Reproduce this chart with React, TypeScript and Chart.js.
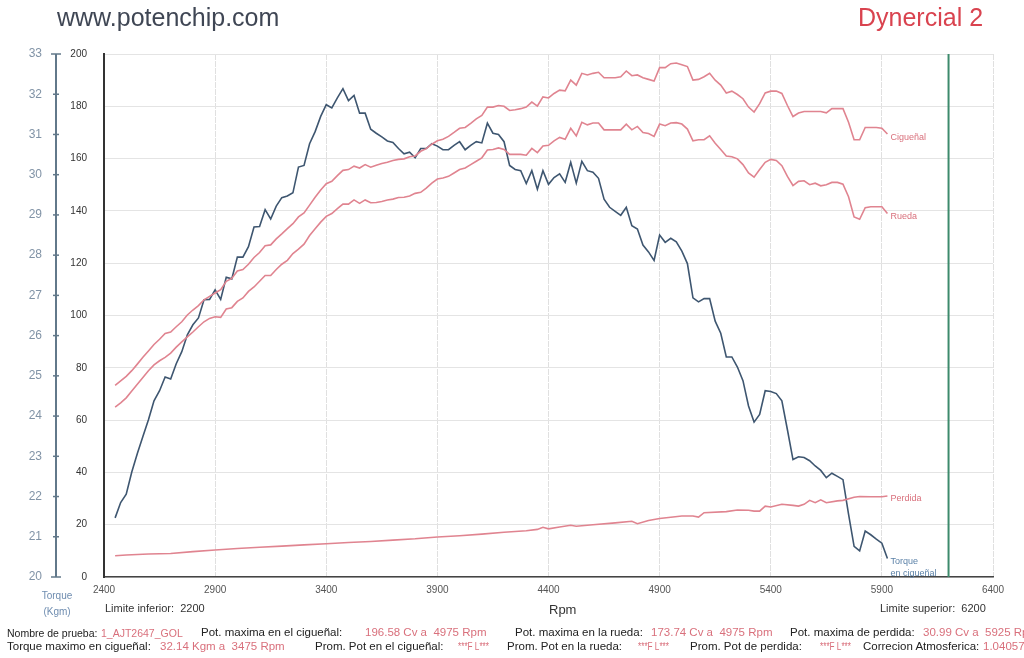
import { useEffect, useLayoutEffect, useRef } from "react";
import { Chart, registerables } from "chart.js";
Chart.register(...registerables);

const FONT = '"Liberation Sans", Arial, Helvetica, sans-serif';
const PINK = "#e08490";
const TORQ = "#3e5670";
const VAL = "#d9707c";

const rpm = [
  2450, 2475, 2500, 2525, 2550, 2575, 2600, 2625, 2650, 2675, 2700, 2725, 2750, 2775, 2800, 2825, 2850, 2875, 2900, 2925,
  2950, 2975, 3000, 3025, 3050, 3075, 3100, 3125, 3150, 3175, 3200, 3225, 3250, 3275, 3300, 3325, 3350, 3375, 3400, 3425,
  3450, 3475, 3500, 3525, 3550, 3575, 3600, 3625, 3650, 3675, 3700, 3725, 3750, 3775, 3800, 3825, 3850, 3875, 3900, 3925,
  3950, 3975, 4000, 4025, 4050, 4075, 4100, 4125, 4150, 4175, 4200, 4225, 4250, 4275, 4300, 4325, 4350, 4375, 4400, 4425,
  4450, 4475, 4500, 4525, 4550, 4575, 4600, 4625, 4650, 4675, 4700, 4725, 4750, 4775, 4800, 4825, 4850, 4875, 4900, 4925,
  4950, 4975, 5000, 5025, 5050, 5075, 5100, 5125, 5150, 5175, 5200, 5225, 5250, 5275, 5300, 5325, 5350, 5375, 5400, 5425,
  5450, 5475, 5500, 5525, 5550, 5575, 5600, 5625, 5650, 5675, 5700, 5725, 5750, 5775, 5800, 5825, 5850, 5875, 5900, 5925,
];

const torque = [
  21.47, 21.85, 22.06, 22.61, 23.07, 23.49, 23.91, 24.38, 24.63, 24.97, 24.92, 25.3, 25.6, 26.02, 26.27, 26.44, 26.89, 26.9, 27.14, 26.9,
  27.45, 27.41, 27.95, 27.95, 28.21, 28.7, 28.71, 29.13, 28.9, 29.22, 29.43, 29.47, 29.55, 30.19, 30.23, 30.77, 31.07, 31.45, 31.74, 31.66,
  31.91, 32.14, 31.84, 31.97, 31.53, 31.53, 31.13, 31.03, 30.94, 30.84, 30.8, 30.65, 30.52, 30.56, 30.42, 30.65, 30.65, 30.77, 30.71, 30.62,
  30.62, 30.73, 30.82, 30.62, 30.73, 30.82, 30.79, 31.28, 31.03, 31.0, 30.82, 30.23, 30.13, 30.1, 29.78, 30.1, 29.64, 30.1, 29.76, 29.93,
  30.02, 29.81, 30.31, 29.79, 30.33, 30.1, 30.06, 29.91, 29.39, 29.19, 29.09, 28.99, 29.19, 28.73, 28.65, 28.25, 28.08, 27.87, 28.5, 28.32,
  28.42, 28.33, 28.1, 27.79, 26.94, 26.84, 26.92, 26.92, 26.36, 26.06, 25.47, 25.47, 25.22, 24.88, 24.25, 23.85, 24.04, 24.63, 24.61, 24.56,
  24.38, 23.66, 22.92, 22.99, 22.97, 22.89, 22.76, 22.65, 22.47, 22.58, 22.5, 22.42, 21.56, 20.76, 20.65, 21.14, 21.05, 20.94, 20.84, 20.46,
];

const ciguenal = [
  73.3, 75.0, 76.7, 78.9, 81.4, 84.0, 86.4, 88.9, 90.9, 93.1, 93.7, 95.7, 97.6, 100.2, 102.1, 103.8, 106.0, 107.3, 108.6, 109.9,
  113.1, 114.2, 117.0, 117.6, 119.6, 122.2, 124.1, 126.7, 127.0, 129.3, 131.2, 133.2, 135.1, 137.7, 139.2, 142.2, 145.2, 148.0, 150.4, 151.3,
  153.5, 155.5, 155.8, 157.1, 156.4, 157.7, 156.7, 157.5, 158.1, 158.6, 159.3, 159.7, 159.9, 160.7, 161.0, 162.8, 163.8, 165.5, 166.8, 167.4,
  168.5, 170.0, 171.6, 171.9, 173.5, 175.2, 176.5, 179.7, 179.7, 180.3, 180.0, 178.4, 178.7, 179.1, 179.7, 181.6, 180.1, 183.6, 183.2, 184.9,
  186.2, 185.9, 190.0, 188.1, 192.6, 192.0, 192.6, 193.0, 190.9, 190.9, 190.9, 191.3, 193.5, 191.7, 192.0, 190.9, 190.3, 189.7, 194.8, 194.8,
  196.3, 196.58, 195.9, 195.2, 190.0, 190.3, 191.3, 192.6, 190.0, 188.1, 185.1, 185.8, 184.5, 182.9, 179.7, 177.8, 181.0, 185.1, 185.8, 185.8,
  184.9, 180.3, 176.1, 177.4, 178.0, 178.0, 178.0, 178.0, 177.5, 179.1, 179.1, 179.1, 173.9, 167.2, 167.2, 171.9, 171.9, 171.9, 171.6, 169.4,
];

const rueda = [
  65.0, 66.6, 68.5, 71.1, 73.7, 76.3, 78.9, 81.1, 82.7, 84.0, 85.6, 87.9, 89.9, 91.8, 93.7, 95.7, 97.6, 98.9, 99.5, 99.3,
  102.5, 103.0, 105.4, 106.7, 109.2, 110.9, 113.1, 115.3, 115.3, 117.6, 119.6, 121.1, 123.7, 125.4, 127.3, 130.6, 133.2, 135.7, 137.9, 139.0,
  140.9, 142.6, 142.6, 144.2, 142.9, 144.2, 143.1, 143.2, 143.6, 144.2, 144.5, 145.1, 145.2, 145.7, 146.7, 147.1, 148.7, 150.6, 152.2, 152.6,
  153.2, 154.5, 155.8, 156.4, 157.7, 159.0, 160.3, 163.3, 163.5, 164.1, 163.5, 161.6, 161.6, 161.6, 161.3, 163.9, 162.3, 164.8, 165.1, 166.8,
  168.1, 167.4, 171.6, 168.7, 173.9, 172.9, 173.6, 173.6, 171.0, 171.0, 171.0, 171.0, 173.2, 171.0, 172.3, 170.0, 169.6, 168.5, 173.2, 172.6,
  173.6, 173.74, 173.2, 171.3, 166.8, 167.2, 167.2, 168.7, 165.9, 163.5, 161.0, 160.7, 159.9, 157.7, 154.5, 152.9, 155.8, 158.6, 159.7, 159.3,
  157.3, 153.2, 149.7, 151.3, 151.5, 150.0, 150.6, 149.6, 150.0, 150.9, 150.9, 150.2, 145.4, 137.7, 136.8, 141.2, 141.6, 141.6, 141.6, 139.0,
];

const perdidaRpm = [
  2450, 2500, 2600, 2700, 2800, 2900, 3000, 3100, 3200, 3300, 3400, 3500, 3600, 3700, 3800, 3900, 4000, 4100, 4200, 4300,
  4350, 4375, 4400, 4450, 4500, 4525, 4600, 4700, 4775, 4800, 4850, 4900, 5000, 5050, 5075, 5100, 5200, 5250, 5300, 5325,
  5350, 5375, 5400, 5450, 5500, 5525, 5550, 5575, 5600, 5625, 5650, 5700, 5725, 5775, 5800, 5850, 5900, 5925,
];
const perdida = [
  8.1, 8.4, 8.8, 9.0, 9.7, 10.3, 10.9, 11.4, 11.8, 12.3, 12.7, 13.2, 13.6, 14.1, 14.6, 15.3, 15.8, 16.4, 17.1, 17.7,
  18.2, 19.0, 18.4, 19.1, 19.8, 19.4, 20.0, 20.7, 21.3, 20.4, 21.6, 22.4, 23.3, 23.3, 22.9, 24.6, 25.0, 25.6, 25.5, 25.2,
  25.2, 27.1, 26.8, 27.8, 27.4, 27.1, 27.8, 29.3, 28.4, 29.5, 28.4, 29.1, 29.3, 30.5, 30.8, 30.7, 30.7, 31.0,
];

const rpmMin = 2400;
const rpmMax = 6400;
const rpmStep = 500;
const powerMax = 200;
const powerStep = 20;
const torqueMin = 20;
const torqueMax = 33;
const limiteSuperior = 6200;

const endLabels = [
  { ds: 0, lines: ["Cigueñal"], color: "#d9707c" },
  { ds: 1, lines: ["Rueda"], color: "#d9707c" },
  { ds: 2, lines: ["Perdida"], color: "#d9707c" },
  { ds: 3, lines: ["Torque", "en cigueñal"], color: "#5c82a8" },
];

const overlayPlugin = {
  id: "overlay",
  afterDatasetsDraw(chart: any) {
    const { ctx, chartArea, scales } = chart;
    const xs = scales.x;
    const ts = scales.y2;
    ctx.save();
    const gx = xs.getPixelForValue(limiteSuperior);
    ctx.strokeStyle = "#3d8a6c";
    ctx.lineWidth = 2;
    ctx.beginPath();
    ctx.moveTo(gx, chartArea.top);
    ctx.lineTo(gx, chartArea.bottom);
    ctx.stroke();
    const ax = ts.right;
    ctx.strokeStyle = "#62788a";
    ctx.lineWidth = 2;
    ctx.beginPath();
    ctx.moveTo(ax, ts.getPixelForValue(torqueMax));
    ctx.lineTo(ax, ts.getPixelForValue(torqueMin));
    ctx.stroke();
    ctx.lineWidth = 1.5;
    for (let v = torqueMin; v <= torqueMax; v++) {
      const py = ts.getPixelForValue(v);
      const w = v === torqueMax || v === torqueMin ? 5 : 3;
      ctx.beginPath();
      ctx.moveTo(ax - w, py);
      ctx.lineTo(ax + w, py);
      ctx.stroke();
    }
    ctx.font = `9px ${FONT}`;
    ctx.textBaseline = "middle";
    ctx.textAlign = "left";
    endLabels.forEach((l) => {
      const meta = chart.getDatasetMeta(l.ds);
      const pts = meta.data;
      const last = pts[pts.length - 1];
      ctx.fillStyle = l.color;
      l.lines.forEach((t, i) => {
        ctx.fillText(t, last.x + 3, last.y + 3 + i * 12);
      });
    });
    ctx.restore();
  },
};

const line1 = [
  { x: 7, w: 0, s: 10.5, t: "Nombre de prueba:", v: false },
  { x: 101, w: 0, s: 10.5, t: "1_AJT2647_GOL", v: true },
  { x: 201, w: 0, s: 11.5, t: "Pot. maxima en el cigueñal:", v: false },
  { x: 365, w: 0, s: 11.5, t: "196.58 Cv a  4975 Rpm", v: true },
  { x: 515, w: 0, s: 11.5, t: "Pot. maxima en la rueda:", v: false },
  { x: 651, w: 0, s: 11.5, t: "173.74 Cv a  4975 Rpm", v: true },
  { x: 790, w: 0, s: 11.5, t: "Pot. maxima de perdida:", v: false },
  { x: 923, w: 0, s: 11.5, t: "30.99 Cv a  5925 Rpm", v: true },
];
const line2 = [
  { x: 7, w: 0, s: 11.5, t: "Torque maximo en cigueñal:", v: false },
  { x: 160, w: 0, s: 11.5, t: "32.14 Kgm a  3475 Rpm", v: true },
  { x: 315, w: 0, s: 11.5, t: "Prom. Pot en el cigueñal:", v: false },
  { x: 458, w: 31, s: 11.5, t: "***F L***", v: true },
  { x: 507, w: 0, s: 11.5, t: "Prom. Pot en la rueda:", v: false },
  { x: 638, w: 31, s: 11.5, t: "***F L***", v: true },
  { x: 690, w: 0, s: 11.5, t: "Prom. Pot de perdida:", v: false },
  { x: 820, w: 31, s: 11.5, t: "***F L***", v: true },
  { x: 863, w: 0, s: 11.5, t: "Correcion Atmosferica:", v: false },
  { x: 983, w: 0, s: 11.5, t: "1.04057", v: true },
];

function Txt(props: { x: number; y: number; size: number; color: string; children: any; w?: number; center?: boolean; fit?: number }) {
  const { x, y, size, color, children, w, center, fit } = props;
  const r = useRef<HTMLSpanElement | null>(null);
  useLayoutEffect(() => {
    if (!fit || !r.current) return;
    const actual = r.current.getBoundingClientRect().width;
    if (actual > 0) r.current.style.transform = `scaleX(${fit / actual})`;
  }, [fit]);
  return (
    <span
      ref={r}
      style={{
        position: "absolute",
        left: x,
        top: y - size / 2,
        width: w,
        textAlign: center ? "center" : "left",
        fontFamily: FONT,
        fontSize: size,
        lineHeight: `${size}px`,
        color,
        whiteSpace: "pre",
        transformOrigin: "left center",
      }}
    >
      {children}
    </span>
  );
}

export default function App() {
  const ref = useRef<HTMLCanvasElement | null>(null);
  useEffect(() => {
    if (!ref.current) return;
    Chart.defaults.font.family = FONT;
    const chart = new Chart(ref.current, {
      type: "line",
      data: {
        datasets: [
          { label: "Cigueñal", data: rpm.map((r, i) => ({ x: r, y: ciguenal[i] })), borderColor: PINK, borderWidth: 1.6, pointRadius: 0, yAxisID: "y" },
          { label: "Rueda", data: rpm.map((r, i) => ({ x: r, y: rueda[i] })), borderColor: PINK, borderWidth: 1.6, pointRadius: 0, yAxisID: "y" },
          { label: "Perdida", data: perdidaRpm.map((r, i) => ({ x: r, y: perdida[i] })), borderColor: PINK, borderWidth: 1.6, pointRadius: 0, yAxisID: "y" },
          { label: "Torque en cigueñal", data: rpm.map((r, i) => ({ x: r, y: torque[i] })), borderColor: TORQ, borderWidth: 1.6, pointRadius: 0, yAxisID: "y2" },
        ],
      },
      options: {
        responsive: false,
        animation: false,
        devicePixelRatio: 1,
        layout: { padding: { top: 54, right: 31, left: 0, bottom: 0 } },
        plugins: { legend: { display: false }, tooltip: { enabled: false } },
        scales: {
          x: {
            type: "linear",
            min: rpmMin,
            max: rpmMax,
            ticks: { stepSize: rpmStep, color: "#555", font: { size: 10 }, padding: 7, maxRotation: 0, callback: (v: any) => String(v) },
            grid: { color: "#e0e0e0", drawTicks: false },
            border: { color: "#444", width: 1.5, dash: [6, 1] },
            afterFit: (s: any) => {
              s.height = 81;
            },
          },
          y: {
            position: "left",
            min: 0,
            max: powerMax,
            weight: 0,
            ticks: { stepSize: powerStep, color: "#333", font: { size: 10 }, padding: 17 },
            grid: { color: "#e4e4e4", drawTicks: false },
            border: { color: "#333", width: 2 },
            afterFit: (s: any) => {
              s.width = 48;
            },
          },
          y2: {
            position: "left",
            min: torqueMin,
            max: torqueMax,
            weight: 1,
            ticks: { stepSize: 1, color: "#8193a6", font: { size: 12 }, padding: 14 },
            grid: { display: false, drawTicks: false },
            border: { display: false },
            afterFit: (s: any) => {
              s.width = 56;
            },
          },
        },
      },
      plugins: [overlayPlugin],
    } as any);
    return () => chart.destroy();
  }, []);

  return (
    <div style={{ position: "absolute", left: 0, top: 0, width: 1024, height: 658, overflow: "hidden", background: "#fff" }}>
      <canvas ref={ref} width={1024} height={658} style={{ position: "absolute", left: 0, top: 0, width: 1024, height: 658 }} />
      <Txt x={57} y={17} size={25} color="#3f4654">www.potenchip.com</Txt>
      <Txt x={858} y={17} size={25} color="#d9434f">Dynercial 2</Txt>
      <Txt x={32} y={596} size={10} color="#6f8db0" w={50} center>Torque</Txt>
      <Txt x={32} y={612} size={10} color="#6f8db0" w={50} center>(Kgm)</Txt>
      <Txt x={105} y={608} size={11} color="#333">{"Limite inferior:  2200"}</Txt>
      <Txt x={549} y={609} size={13} color="#333">Rpm</Txt>
      <Txt x={880} y={608} size={11} color="#333">{"Limite superior:  6200"}</Txt>
      {line1.map((s, i) => (
        <Txt key={"a" + i} x={s.x} y={633} size={s.s} color={s.v ? VAL : "#222"} fit={s.w || undefined}>{s.t}</Txt>
      ))}
      {line2.map((s, i) => (
        <Txt key={"b" + i} x={s.x} y={647} size={s.s} color={s.v ? VAL : "#222"} fit={s.w || undefined}>{s.t}</Txt>
      ))}
    </div>
  );
}
